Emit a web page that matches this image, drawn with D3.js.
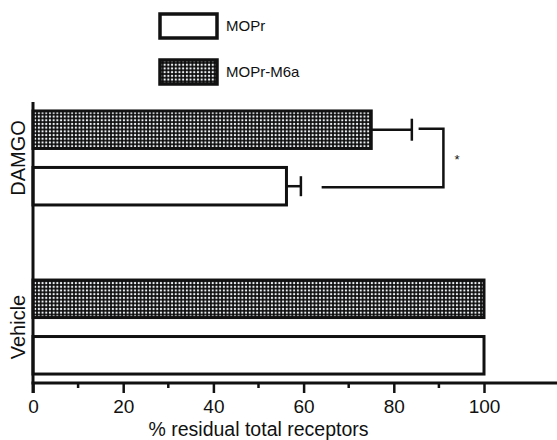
<!DOCTYPE html>
<html>
<head>
<meta charset="utf-8">
<script src="https://cdn.jsdelivr.net/npm/d3@7"></script>
<style>
  body { margin: 0; background: #fff; }
  text { font-family: "Liberation Sans", Arial, sans-serif; fill: #111; }
</style>
</head>
<body>
<div id="chart"></div>
<script>
// data
const groups = ['DAMGO', 'Vehicle'];
const series = ['MOPr-M6a', 'MOPr'];
const values = { 'DAMGO': [75, 56.2], 'Vehicle': [100, 100] };
const errors = { 'DAMGO': [9, 3.2], 'Vehicle': [0, 0] };
const xTicks = [0, 20, 40, 60, 80, 100];
const xMinorTicks = [10, 30, 50, 70, 90];
const legendItems = ['MOPr', 'MOPr-M6a'];
// significance bracket (x in data units): start M6a, start MOPr, vertical
const bracket = [85.5, 64, 91];

const width = 557, height = 440;
const margin = { left: 33, right: 73, top: 102, bottom: 57 };

const svg = d3.select('#chart').append('svg')
    .attr('width', width)
    .attr('height', height);

// dotted pattern
const defs = svg.append('defs');
const pat = defs.append('pattern')
    .attr('id', 'dots')
    .attr('patternUnits', 'userSpaceOnUse')
    .attr('width', 3.7).attr('height', 3.7);
pat.append('rect').attr('width', 3.7).attr('height', 3.7).attr('fill', '#0d0d0d');
pat.append('circle').attr('cx', 1.85).attr('cy', 1.85).attr('r', 1.15).attr('fill', '#eef1f4');

const fillFor = s => s === 'MOPr-M6a' ? 'url(#dots)' : '#fff';

// scales
const scaleX = d3.scaleLinear([0, 100], [margin.left, width - margin.right]);
const scaleY = d3.scaleBand(groups, [margin.top, height - margin.bottom])
    .paddingInner(0.444).paddingOuter(0.053);
const scaleSub = d3.scaleBand(series, [0, scaleY.bandwidth()]).paddingInner(0.336);

const baseY = height - margin.bottom;

// bars
const rows = groups.flatMap(g => series.map((s, i) => ({
    group: g, series: s, value: values[g][i], err: errors[g][i]
})));

svg.append('g').selectAll('rect.bar')
    .data(rows)
    .join('rect')
    .classed('bar', true)
    .attr('x', scaleX(0))
    .attr('y', d => scaleY(d.group) + scaleSub(d.series))
    .attr('width', d => scaleX(d.value) - scaleX(0))
    .attr('height', scaleSub.bandwidth())
    .attr('fill', d => fillFor(d.series))
    .attr('stroke', '#111')
    .attr('stroke-width', 3);

// error bars
const errG = svg.append('g').attr('stroke', '#111').attr('stroke-width', 2.5);
rows.filter(d => d.err > 0).forEach(d => {
    const cy = scaleY(d.group) + scaleSub(d.series) + scaleSub.bandwidth() / 2;
    const capH = d.series === 'MOPr-M6a' ? 11 : 10;
    errG.append('line')
        .attr('x1', scaleX(d.value)).attr('x2', scaleX(d.value + d.err))
        .attr('y1', cy).attr('y2', cy);
    errG.append('line')
        .attr('x1', scaleX(d.value + d.err)).attr('x2', scaleX(d.value + d.err))
        .attr('y1', cy - capH).attr('y2', cy + capH);
});

// significance bracket
const yA = scaleY('DAMGO') + scaleSub('MOPr-M6a') + scaleSub.bandwidth() / 2 - 1;
const yB = scaleY('DAMGO') + scaleSub('MOPr') + scaleSub.bandwidth() / 2 + 1;
svg.append('path')
    .attr('d', `M${scaleX(bracket[0])},${yA}H${scaleX(bracket[2])}V${yB}H${scaleX(bracket[1])}`)
    .attr('fill', 'none')
    .attr('stroke', '#111')
    .attr('stroke-width', 2.5);
svg.append('text')
    .attr('x', scaleX(bracket[2]) + 11)
    .attr('y', (yA + yB) / 2 + 6)
    .style('font-size', '13px')
    .text('*');

// x axis
const axisX = svg.append('g')
    .attr('transform', `translate(0, ${baseY})`)
    .call(d3.axisBottom(scaleX).tickValues(xTicks).tickSize(10).tickSizeOuter(0).tickPadding(7));
axisX.select('.domain').remove();
axisX.selectAll('.tick line').attr('stroke', '#111').attr('stroke-width', 2.5);
axisX.selectAll('.tick text')
    .style('font-size', '19px')
    .style('font-family', '"Liberation Sans", Arial, sans-serif')
    .attr('fill', '#111');
axisX.selectAll('.minor')
    .data(xMinorTicks)
    .join('line')
    .attr('x1', d => scaleX(d)).attr('x2', d => scaleX(d))
    .attr('y1', 0).attr('y2', 5)
    .attr('stroke', '#111').attr('stroke-width', 2.5);
axisX.append('line')
    .attr('x1', scaleX(0) - 1.5).attr('x2', width)
    .attr('y1', 0).attr('y2', 0)
    .attr('stroke', '#111').attr('stroke-width', 3);

// y axis
svg.append('line')
    .attr('x1', scaleX(0)).attr('x2', scaleX(0))
    .attr('y1', margin.top).attr('y2', baseY + 10)
    .attr('stroke', '#111').attr('stroke-width', 3);

// group labels
groups.forEach(g => {
    const cy = scaleY(g) + scaleY.bandwidth() / 2;
    svg.append('text')
        .attr('transform', `translate(25, ${cy}) rotate(-90)`)
        .attr('text-anchor', 'middle')
        .style('font-size', '20px')
        .text(g);
});

// axis title
svg.append('text')
    .attr('x', (scaleX(0) + scaleX(100)) / 2 + 0)
    .attr('y', 436)
    .attr('text-anchor', 'middle')
    .style('font-size', '19.5px')
    .text('% residual total receptors');

// legend
const legend = svg.append('g');
legendItems.forEach((s, i) => {
    const y = 14 + i * 46;
    legend.append('rect')
        .attr('x', 160).attr('y', y)
        .attr('width', 57).attr('height', 24)
        .attr('fill', fillFor(s))
        .attr('stroke', '#111')
        .attr('stroke-width', 3.5);
    legend.append('text')
        .attr('x', 226).attr('y', y + 17)
        .style('font-size', '15px')
        .text(s);
});
</script>
</body>
</html>
